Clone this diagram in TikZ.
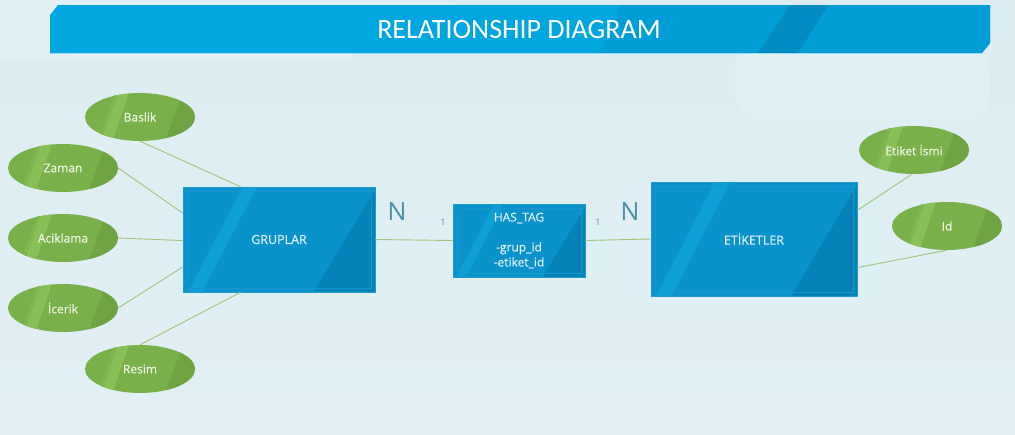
\documentclass[tikz,border=0pt]{standalone}
\usepackage{fontspec}
\setmainfont{Open Sans}
\newfontfamily\medfont{Open Sans}[FakeBold=0.6]
\newfontfamily\titlefont{Carlito}
\usetikzlibrary{shapes.geometric,calc}
\definecolor{bgtop}{HTML}{DCEDF2}
\definecolor{bgbot}{HTML}{E2F0F5}
\definecolor{cloud}{HTML}{E0F0F4}
\definecolor{barc}{HTML}{00A6E0}
\definecolor{bardark}{HTML}{008CC2}
\definecolor{barmid}{HTML}{009DD7}
\definecolor{ent}{HTML}{0A92CA}
\definecolor{entlight}{HTML}{0E9ED8}
\definecolor{entdark}{HTML}{0582B8}
\definecolor{entline}{HTML}{1F9AD0}
\definecolor{entin}{HTML}{1596CC}
\definecolor{att}{HTML}{78B04A}
\definecolor{attlight}{HTML}{86C056}
\definecolor{attdark}{HTML}{6FA443}
\definecolor{conn}{HTML}{9DC47C}
\definecolor{lbl}{HTML}{4A8FA8}
\definecolor{wtext}{HTML}{DDEFF8}
\definecolor{gtext}{HTML}{EEF5E4}
\tikzset{
  entity/.style={rectangle, fill=ent, draw=entline, line width=0.6pt, inner sep=0pt,
    text=wtext, font=\medfont\fontsize{12.5}{15}\selectfont, align=center,
    path picture={
      \path (path picture bounding box.south west) coordinate (sw)
            (path picture bounding box.north east) coordinate (ne);
      \fill[entlight] let \p1=(sw), \p2=(ne) in
        ({\x1+0.31*(\x2-\x1)},\y2) -- ({\x1+0.385*(\x2-\x1)},\y2) --
        ({\x1+0.10*(\x2-\x1)},\y1) -- ({\x1+0.026*(\x2-\x1)},\y1) -- cycle;
      \fill[entdark] let \p1=(sw), \p2=(ne) in
        (\x2,{\y2-3}) -- (\x2,\y1) -- ({\x1+0.68*(\x2-\x1)},\y1) -- cycle;
      \draw[entin, line width=0.5pt] let \p1=(sw), \p2=(ne) in
        ({\x1+4},{\y1+4}) rectangle ({\x2-4},{\y2-4});
    }},
  attr/.style={ellipse, fill=att, inner sep=0pt, minimum width=110pt, minimum height=48pt,
    text=gtext, font=\medfont\fontsize{12}{13}\selectfont,
    path picture={
      \path (path picture bounding box.south west) coordinate (sw)
            (path picture bounding box.north east) coordinate (ne);
      \fill[attlight] let \p1=(sw), \p2=(ne) in
        ({\x1+0.27*(\x2-\x1)},\y2) -- ({\x1+0.40*(\x2-\x1)},\y2) --
        ({\x1+0.25*(\x2-\x1)},\y1) -- ({\x1+0.12*(\x2-\x1)},\y1) -- cycle;
      \fill[att!60!attlight] let \p1=(sw), \p2=(ne) in
        ({\x1+0.27*(\x2-\x1)},\y2) -- ({\x1+0.30*(\x2-\x1)},\y2) --
        ({\x1+0.15*(\x2-\x1)},\y1) -- ({\x1+0.12*(\x2-\x1)},\y1) -- cycle;
      \fill[attdark] let \p1=(sw), \p2=(ne) in
        ({\x1+0.89*(\x2-\x1)},\y2) -- (\x2,\y2) -- (\x2,\y1) -- ({\x1+0.73*(\x2-\x1)},\y1) -- cycle;
    }},
  link/.style={draw=conn, line width=0.9pt},
  card/.style={text=lbl, inner sep=0pt},
}
\begin{document}
\begin{tikzpicture}[x=1pt,y=-1pt]
\useasboundingbox (0,0) rectangle (1015,434);
% background
\shade[top color=bgtop, bottom color=bgbot] (0,0) rectangle (1015,434);
\fill[cloud, rounded corners=20pt] (-10,-10) rectangle (450,60);
\fill[bgtop!70!cloud, rounded corners=20pt] (345,50) rectangle (780,82);
\fill[cloud, rounded corners=25pt] (735,45) rectangle (990,120);
% title bar
\fill[barc] (58,5) -- (990,5) -- (990,43) -- (982,53) -- (50,53) -- (50,15) -- cycle;
\fill[barmid] (620,5) -- (990,5) -- (990,43) -- (982,53) -- (600,53) -- cycle;
\fill[bardark] (790,5) -- (828,5) -- (798,53) -- (758,53) -- cycle;
\draw[white!60!barc, line width=0.8pt] (50,53) -- (982,53);
\node[text=white, font=\titlefont\fontsize{28}{30}\selectfont, inner sep=0pt] (title) at (519,30) {RELATIONSHIP DIAGRAM};
% entities
\node[entity, minimum width=192pt, minimum height=105pt] (grup) at (279,239.5) {GRUPLAR};
\node[entity, minimum width=132pt, minimum height=73pt, font=\medfont\fontsize{12}{15}\selectfont] (has) at (519,240.5)
  {HAS\_TAG\\[0pt] \\-grup\_id\\-etiket\_id};
\node[entity, minimum width=206pt, minimum height=114pt] (etik) at (754,239) {ETİKETLER};
% attributes
\node[attr] (baslik) at (140,117) {Baslik};
\node[attr] (zaman) at (63,168) {Zaman};
\node[attr] (aciklama) at (63,238) {Aciklama};
\node[attr] (icerik) at (63,308) {İcerik};
\node[attr] (resim) at (140,369) {Resim};
\node[attr] (isim) at (914,150) {Etiket İsmi};
\node[attr] (id) at (947,226) {Id};
% connectors
\draw[link] (baslik.south) -- ($(grup.north west)!0.30!(grup.north east)$);
\draw[link] (zaman.east) -- ($(grup.north west)!0.25!(grup.south west)$);
\draw[link] (aciklama.east) -- ($(grup.north west)!0.51!(grup.south west)$);
\draw[link] (icerik.east) -- ($(grup.north west)!0.76!(grup.south west)$);
\draw[link] (resim.north) -- ($(grup.south west)!0.30!(grup.south east)$);
\draw[link] (isim.265) -- ($(etik.north east)!0.25!(etik.south east)$);
\draw[link] (id.south) -- ($(etik.north east)!0.75!(etik.south east)$);
\draw[link] (grup.east) -- (has.west);
\draw[link] (has.east) -- (etik.west);
% cardinalities
\node[card, font=\fontsize{25}{25}\selectfont] (n1) at (397,212) {N};
\node[card, font=\fontsize{9}{9}\selectfont] (o1) at (443,222) {1};
\node[card, font=\fontsize{9}{9}\selectfont] (o2) at (598,222) {1};
\node[card, font=\fontsize{25}{25}\selectfont] (n2) at (630,212) {N};
\end{tikzpicture}
\end{document}
